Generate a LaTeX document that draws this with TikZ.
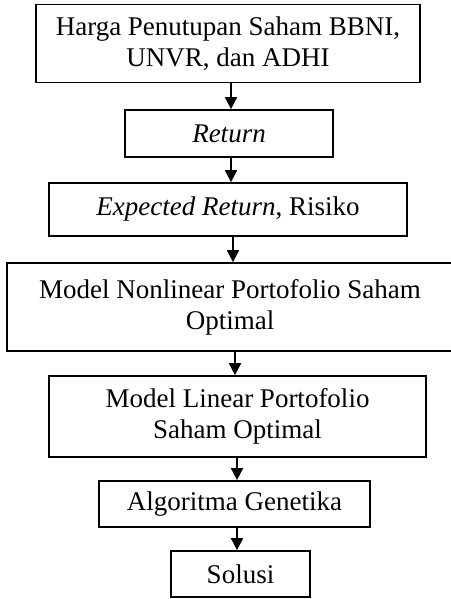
\documentclass[tikz,border=0pt]{standalone}
\usepackage{fontspec}
\setmainfont{Liberation Serif}
\usetikzlibrary{arrows.meta}
\begin{document}
\begin{tikzpicture}[x=1pt,y=-1pt,
  box/.style={draw, line width=1.7pt, inner sep=0pt, align=center,
    font=\fontsize{27}{31}\selectfont},
  flow/.style={line width=1.7pt, -{Triangle[length=12pt,width=12pt]}}]
\useasboundingbox (0,0) rectangle (450,599);
\node[box, minimum width=384pt, minimum height=78pt] (b1) at (228,43.5) {Harga Penutupan Saham BBNI,\\UNVR, dan ADHI};
\node[box, minimum width=208pt, minimum height=47pt] (b2) at (229,133.5) {\textit{Return}};
\node[box, minimum width=358pt, minimum height=53pt] (b3) at (228,209.5) {\textit{Expected Return}, Risiko};
\node[box, minimum width=446pt, minimum height=88pt] (b4) at (230,307) {Model Nonlinear Portofolio Saham\\Optimal};
\node[box, minimum width=377pt, minimum height=81pt] (b5) at (237.5,416.5) {Model Linear Portofolio\\Saham Optimal};
\node[box, minimum width=271pt, minimum height=46pt] (b6) at (234.5,504) {Algoritma Genetika};
\node[box, minimum width=139pt, minimum height=46pt] (b7) at (240.5,574) {Solusi};
\draw[flow] (b1.south -| 231,0) -- (b2.north -| 231,0);
\draw[flow] (b2.south -| 231,0) -- (b3.north -| 231,0);
\draw[flow] (b3.south -| 233,0) -- (b4.north -| 233,0);
\draw[flow] (b4.south -| 235,0) -- (b5.north -| 235,0);
\draw[flow] (b5.south -| 237,0) -- (b6.north -| 237,0);
\draw[flow] (b6.south -| 237,0) -- (b7.north -| 237,0);
\end{tikzpicture}
\end{document}
